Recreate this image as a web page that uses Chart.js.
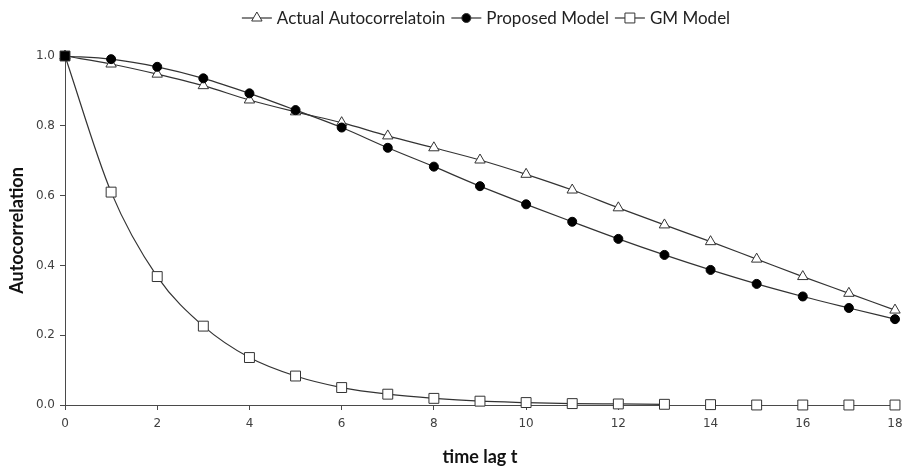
<!DOCTYPE html>
<html>
<head>
<meta charset="utf-8">
<script src="https://cdn.jsdelivr.net/npm/chart.js@4.4.1/dist/chart.umd.min.js"></script>
<style>
  html, body { margin: 0; padding: 0; background: #fff; }
  #wrap { width: 904px; height: 471px; position: relative; }
</style>
</head>
<body>
<div id="wrap"><canvas id="acf"></canvas></div>
<script>
// time lags (x) and the three curves
const lags = [0, 1, 2, 3, 4, 5, 6, 7, 8, 9, 10, 11, 12, 13, 14, 15, 16, 17, 18];
const actualAcf = [1.0, 0.977, 0.948, 0.915, 0.874, 0.84, 0.809, 0.771, 0.737, 0.702, 0.661, 0.616, 0.565, 0.516, 0.468, 0.418, 0.368, 0.32, 0.272];
const proposedAcf = [1.0, 0.991, 0.969, 0.936, 0.893, 0.845, 0.795, 0.737, 0.683, 0.627, 0.575, 0.525, 0.476, 0.43, 0.387, 0.347, 0.311, 0.278, 0.246];
const gmAcf = [1.0, 0.61, 0.368, 0.226, 0.136, 0.083, 0.05, 0.031, 0.019, 0.011, 0.007, 0.004, 0.003, 0.002, 0.001, 0.0, 0.0, 0.0, 0.0];
const seriesNames = ['Actual Autocorrelatoin', 'Proposed Model', 'GM Model'];
const xTitle = 'time lag t';
const yTitle = 'Autocorrelation';

const INK = '#333333';
const AXIS = '#4a4a4a';

const toPoints = (ys) => lags.map((x, i) => ({ x: x, y: ys[i] }));

// legend drawn by hand so the gap under it matches the original
const lineLegend = {
  id: 'lineLegend',
  afterDraw(chart) {
    const ctx = chart.ctx;
    const sampleW = 30, gap = 5, between = 6, cy = 18;
    ctx.save();
    ctx.font = '17px Lato';
    ctx.textBaseline = 'middle';
    const items = chart.data.datasets.map(ds => ({ ds, w: sampleW + gap + ctx.measureText(ds.label).width }));
    const total = items.reduce((s, it) => s + it.w, 0) + between * (items.length - 1);
    let x = 486 - total / 2;
    items.forEach(({ ds }) => {
      ctx.strokeStyle = INK;
      ctx.lineWidth = 1.2;
      ctx.beginPath();
      ctx.moveTo(x, cy);
      ctx.lineTo(x + sampleW, cy);
      ctx.stroke();
      ctx.fillStyle = ds.legendFill;
      ctx.strokeStyle = INK;
      ctx.lineWidth = 1;
      Chart.helpers.drawPoint(ctx, { pointStyle: ds.pointStyle, radius: ds.pointRadius, borderWidth: 1 }, x + sampleW / 2, cy);
      ctx.fillStyle = '#222';
      ctx.fillText(ds.label, x + sampleW + gap, cy + 1);
      x += sampleW + gap + ctx.measureText(ds.label).width + between;
    });
    ctx.restore();
  }
};

new Chart(document.getElementById('acf'), {
  type: 'line',
  data: {
    datasets: [
      {
        label: seriesNames[0],
        data: toPoints(actualAcf),
        borderColor: INK,
        borderWidth: 1.2,
        pointStyle: 'triangle',
        pointRadius: 6,
        pointBackgroundColor: '#fff',
        pointBorderColor: INK,
        pointBorderWidth: 1,
        legendFill: '#fff',
        cubicInterpolationMode: 'monotone',
        order: 2
      },
      {
        label: seriesNames[1],
        data: toPoints(proposedAcf),
        borderColor: INK,
        borderWidth: 1.2,
        pointStyle: 'circle',
        pointRadius: 4.5,
        pointBackgroundColor: '#000',
        pointBorderColor: '#000',
        pointBorderWidth: 1,
        legendFill: '#000',
        cubicInterpolationMode: 'monotone',
        order: 1
      },
      {
        label: seriesNames[2],
        data: toPoints(gmAcf),
        borderColor: INK,
        borderWidth: 1.2,
        pointStyle: 'rect',
        pointRadius: 7,
        pointBackgroundColor: (c) => c.dataIndex === 0 ? '#000' : '#fff',
        pointBorderColor: INK,
        pointBorderWidth: 1,
        legendFill: '#fff',
        cubicInterpolationMode: 'monotone',
        segment: {
          borderColor: (c) => c.p0.parsed.x >= 13 ? 'rgba(0,0,0,0)' : INK
        },
        order: 0
      }
    ]
  },
  options: {
    responsive: true,
    maintainAspectRatio: false,
    animation: false,
    clip: false,
    layout: { padding: { left: 0, right: 9, top: 56, bottom: 0 } },
    plugins: {
      legend: { display: false },
      tooltip: { enabled: false }
    },
    elements: { point: { hoverRadius: 6 } },
    scales: {
      x: {
        type: 'linear',
        min: 0,
        max: 18,
        afterFit: (s) => { s.height = 66; s.paddingLeft = 0; s.paddingRight = 0; },
        border: { display: true, color: AXIS, width: 1 },
        grid: { display: true, drawOnChartArea: false, drawTicks: true, tickLength: 5, color: AXIS },
        ticks: {
          stepSize: 2,
          padding: 7,
          color: '#404040',
          font: { family: 'DejaVu Sans', size: 12 }
        },
        title: {
          display: true,
          text: xTitle,
          color: '#111',
          font: { family: 'Lato', size: 18, weight: 'bold' },
          padding: { top: 4, bottom: 3 }
        }
      },
      y: {
        min: 0,
        max: 1,
        afterFit: (s) => { s.width = 65; },
        border: { display: true, color: AXIS, width: 1 },
        grid: { display: true, drawOnChartArea: false, drawTicks: true, tickLength: 5, color: AXIS },
        ticks: {
          stepSize: 0.2,
          padding: 5,
          color: '#404040',
          font: { family: 'DejaVu Sans', size: 12 },
          callback: (v) => v.toFixed(1)
        },
        title: {
          display: true,
          text: yTitle,
          color: '#111',
          font: { family: 'Lato', size: 18, weight: 'bold' },
          padding: { top: 6, bottom: 4 }
        }
      }
    }
  },
  plugins: [lineLegend]
});
</script>
</body>
</html>
